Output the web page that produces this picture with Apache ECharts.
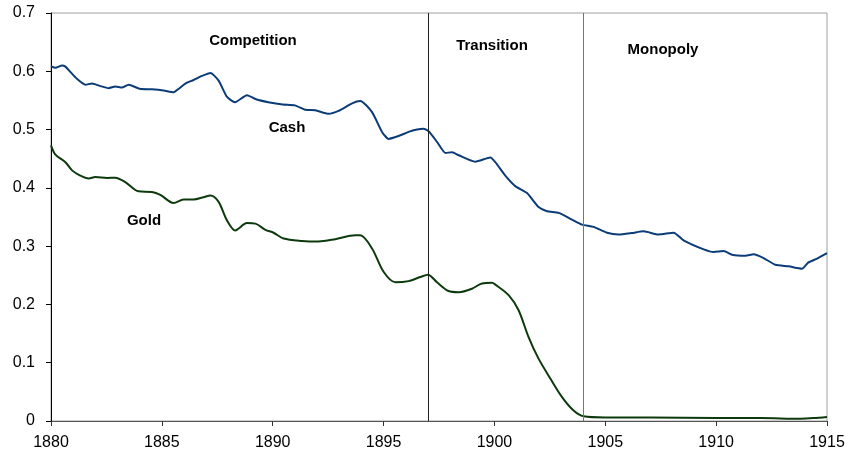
<!DOCTYPE html>
<html>
<head>
<meta charset="utf-8">
<script src="https://cdn.jsdelivr.net/npm/echarts@6/dist/echarts.min.js"></script>
<style>
  html, body { margin: 0; padding: 0; background: #fff; }
  #chart { width: 846px; height: 456px; }
</style>
</head>
<body>
<div id="chart"></div>
<script>
// values
let cashYears = [1880.0, 1880.2, 1880.5, 1880.65, 1880.87, 1881.17, 1881.55, 1881.85, 1882.2, 1882.6,
    1882.9, 1883.2, 1883.5, 1884.0, 1884.55, 1885.08, 1885.53, 1885.76, 1886.06, 1886.43,
    1886.81, 1887.19, 1887.56, 1887.94, 1888.3, 1888.84, 1889.25, 1889.8, 1890.45, 1891.0,
    1891.47, 1891.92, 1892.52, 1892.97, 1893.58, 1893.95, 1894.48, 1894.93, 1895.23, 1895.68,
    1896.13, 1896.51, 1896.8, 1897.03, 1897.41, 1897.79, 1898.09, 1898.39, 1899.14, 1899.82,
    1900.04, 1900.49, 1900.94, 1901.47, 1901.99, 1902.37, 1902.9, 1903.5, 1903.95, 1904.47,
    1905.08, 1905.6, 1906.2, 1906.73, 1907.4, 1908.08, 1908.53, 1909.44, 1909.89, 1910.34,
    1910.72, 1911.32, 1911.69, 1912.14, 1912.67, 1913.27, 1913.87, 1914.15, 1914.55, 1915.0]
let cashValues = [0.609, 0.606, 0.610, 0.608, 0.599, 0.587, 0.577, 0.579, 0.575, 0.571,
    0.574, 0.572, 0.577, 0.570, 0.569, 0.567, 0.564, 0.570, 0.579, 0.585,
    0.592, 0.597, 0.584, 0.556, 0.547, 0.559, 0.552, 0.547, 0.543, 0.5415,
    0.534, 0.533, 0.527, 0.532, 0.545, 0.549, 0.530, 0.496, 0.484, 0.489,
    0.496, 0.500, 0.5015, 0.497, 0.479, 0.460, 0.461, 0.456, 0.445, 0.452,
    0.444, 0.421, 0.403, 0.391, 0.367, 0.360, 0.357, 0.3455, 0.337, 0.333,
    0.323, 0.320, 0.3225, 0.3254, 0.320, 0.323, 0.310, 0.2945, 0.290, 0.2916,
    0.2854, 0.2837, 0.286, 0.2796, 0.268, 0.2654, 0.2614, 0.2717, 0.2786, 0.288]

let goldYears = [1880.0, 1880.2, 1880.65, 1880.95, 1881.32, 1881.7, 1882.0, 1882.53, 1882.9, 1883.35,
    1883.95, 1884.55, 1884.93, 1885.53, 1885.98, 1886.43, 1886.88, 1887.19, 1887.56, 1887.94,
    1888.31, 1888.84, 1889.22, 1889.67, 1890.04, 1890.49, 1891.32, 1892.07, 1892.82, 1893.72,
    1893.95, 1894.48, 1895.0, 1895.53, 1896.13, 1896.66, 1897.0, 1897.41, 1897.93, 1898.39,
    1898.99, 1899.44, 1899.89, 1900.04, 1900.64, 1901.09, 1901.54, 1901.99, 1902.52, 1903.05,
    1903.57, 1904.02, 1905, 1907, 1910, 1912, 1913.8, 1914.4, 1915]
let goldValues = [0.473, 0.457, 0.444, 0.430, 0.421, 0.416, 0.4185, 0.417, 0.4175, 0.410,
    0.394, 0.393, 0.388, 0.374, 0.380, 0.380, 0.384, 0.387, 0.376, 0.344,
    0.327, 0.3396, 0.3386, 0.328, 0.323, 0.313, 0.309, 0.308, 0.312, 0.3185,
    0.3185, 0.296, 0.256, 0.238, 0.240, 0.247, 0.251, 0.238, 0.223, 0.221,
    0.227, 0.236, 0.237, 0.234, 0.216, 0.190, 0.144, 0.107, 0.073, 0.041,
    0.018, 0.008, 0.006, 0.006, 0.005, 0.005, 0.004, 0.005, 0.007]

let periodBreaks = [1897, 1904]

let cashData = cashYears.map((y, i) => [y, cashValues[i]])
let goldData = goldYears.map((y, i) => [y, goldValues[i]])

let myChart = echarts.init(document.getElementById('chart'))

let labelFont = { fontFamily: 'Liberation Sans, Arial', fontSize: 15, fontWeight: 'bold', fill: '#000' }
function txt(text, x, y) {
    return {
        type: 'text', x: x, y: y, z: 10,
        style: Object.assign({ text: text, align: 'center', verticalAlign: 'middle' }, labelFont)
    }
}

let option = {
    animation: false,
    backgroundColor: '#fff',
    grid: {
        left: 51, right: 19, top: 13, bottom: 35,
        outerBoundsMode: 'none',
        containLabel: false,
        show: true, borderColor: '#a0a0a0', borderWidth: 1
    },
    xAxis: {
        type: 'value',
        min: 1880, max: 1915, interval: 5,
        axisLine: { lineStyle: { color: '#555', width: 1 } },
        axisTick: { show: true, length: 5, lineStyle: { color: '#333' } },
        axisLabel: {
            color: '#000', fontSize: 16, fontFamily: 'Liberation Sans, Arial', margin: 14,
            formatter: v => String(v)
        },
        splitLine: { show: false }
    },
    yAxis: {
        type: 'value',
        min: 0, max: 0.7, interval: 0.1,
        axisLine: { show: true, lineStyle: { color: '#000', width: 1 } },
        axisTick: { show: true, length: 5, lineStyle: { color: '#000' } },
        axisLabel: { color: '#000', fontSize: 16, fontFamily: 'Liberation Sans, Arial', margin: 16 },
        splitLine: { show: false }
    },
    series: [
        {
            name: 'Cash',
            type: 'line',
            data: cashData,
            showSymbol: false,
            smooth: 0.2,
            lineStyle: { color: '#0b3c78', width: 2 },
            markLine: {
                silent: true,
                symbol: 'none',
                label: { show: false },
                data: [
                    { xAxis: periodBreaks[0], lineStyle: { color: '#222', width: 1, type: 'solid' } },
                    { xAxis: periodBreaks[1], lineStyle: { color: '#777', width: 1, type: 'solid' } }
                ]
            }
        },
        {
            name: 'Gold',
            type: 'line',
            data: goldData,
            showSymbol: false,
            smooth: 0.3,
            lineStyle: { color: '#0d3a0d', width: 2 }
        }
    ],
    graphic: [
        txt('Competition', 253, 41),
        txt('Cash', 287, 128),
        txt('Transition', 492, 46),
        txt('Monopoly', 663, 50),
        txt('Gold', 144, 221)
    ]
}

myChart.setOption(option)
</script>
</body>
</html>
